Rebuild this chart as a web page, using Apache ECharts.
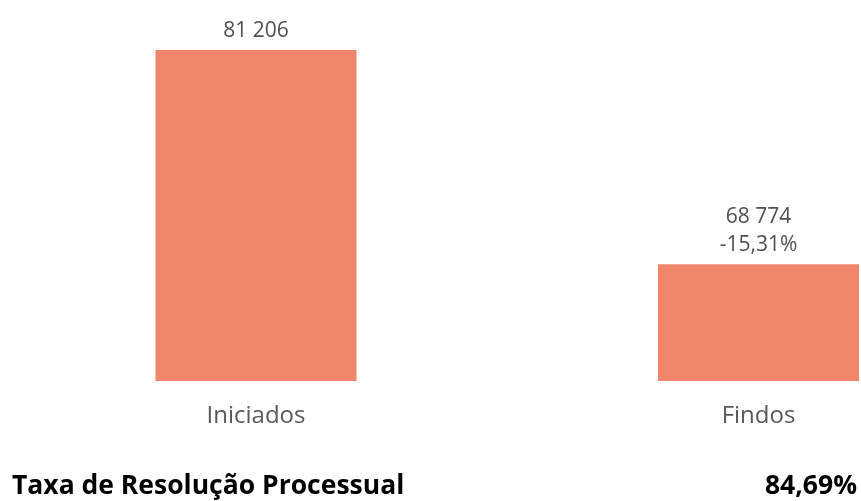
<!DOCTYPE html>
<html>
<head>
<meta charset="utf-8">
<script src="https://cdn.jsdelivr.net/npm/echarts@6/dist/echarts.min.js"></script>
<style>
  html, body { margin: 0; padding: 0; background: #fff; }
  #grafico { width: 861px; height: 501px; }
</style>
</head>
<body>
<div id="grafico"></div>
<script>
var categorias = ['Iniciados', 'Findos'];
var valores = [81206, 68774];
var variacao = ['', '-15,31%'];
var taxaTitulo = 'Taxa de Resolução Processual';
var taxaValor = '84,69%';

function formataNumero(v) {
    return String(v).replace(/\B(?=(\d{3})+(?!\d))/g, ' ');
}

var myChart = echarts.init(document.getElementById('grafico'));

var option = {
    animation: false,
    textStyle: { fontFamily: 'Open Sans' },
    title: [{
        text: taxaTitulo,
        left: 7,
        bottom: -4,
        textStyle: { fontFamily: 'Open Sans', fontSize: 26.5, fontWeight: 'bold', color: '#000' }
    }, {
        text: taxaValor,
        right: -1,
        bottom: -4,
        textStyle: { fontFamily: 'Open Sans', fontSize: 26.5, fontWeight: 'bold', color: '#000' }
    }],
    grid: {
        left: 256,
        right: 102.5,
        top: 50,
        bottom: 120
    },
    xAxis: {
        type: 'category',
        data: categorias,
        boundaryGap: false,
        axisLine: { show: false },
        axisTick: { show: false },
        axisLabel: { fontSize: 24, color: '#595959', margin: 23, fontFamily: 'Open Sans' }
    },
    yAxis: {
        type: 'value',
        min: 62000,
        max: 81206,
        show: false,
        splitLine: { show: false }
    },
    series: [{
        type: 'bar',
        barWidth: 201,
        data: valores,
        itemStyle: { color: '#F0856A' },
        label: {
            show: true,
            position: 'top',
            distance: 5,
            fontSize: 21,
            lineHeight: 28,
            color: '#505050',
            fontFamily: 'Open Sans',
            formatter: function (p) {
                var txt = formataNumero(p.value);
                if (variacao[p.dataIndex] != '')
                    txt += '\n' + variacao[p.dataIndex];
                return txt;
            }
        }
    }]
};

myChart.setOption(option);
</script>
</body>
</html>
